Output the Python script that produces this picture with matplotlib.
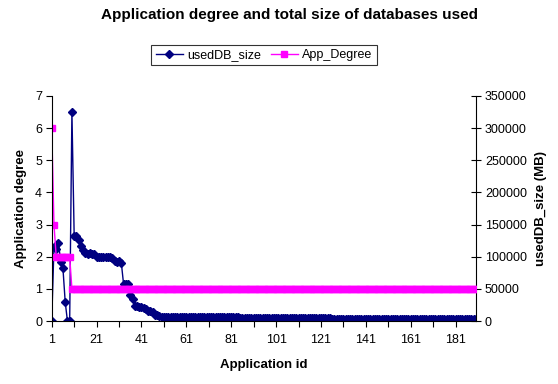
import matplotlib
matplotlib.use("Agg")
import matplotlib.pyplot as plt
from matplotlib.ticker import MultipleLocator, FixedLocator

plt.rcParams['font.family'] = ['Liberation Sans', 'DejaVu Sans']

# application ids 1..190
app_id = list(range(1, 191))

# App_Degree (left axis)
app_degree = [6, 3, 2, 2, 2, 2, 2, 2, 2] + [1] * 181

# usedDB_size in MB (right axis)
used_db_size = [
    0, 115000, 112000, 122000, 92000, 82000, 30000, 0, 0, 325000,
    133000, 132000, 126000, 117000, 110000, 106000, 105000, 106000, 105000, 104000,
    100000, 99000, 100000, 99000, 100000, 99000, 100000, 98000, 93000, 92000,
    93000, 91000, 58000, 57000, 57000, 40000, 34000, 24000, 23000, 22000,
    22000, 21000, 19000, 15000, 15000, 14000, 9000, 9000, 8000, 7000,
    6500, 6000, 6200, 6000, 6100, 6000, 5900, 6000, 6200, 6000,
    6000, 5900, 6100, 6000, 6000, 5800, 6000, 6100, 6000, 5900,
    6000, 6000, 6100, 5900, 6000, 6000, 5800, 6000, 6100, 6000,
    5900, 6000, 5800, 5900, 4500, 4600, 4400, 4500, 5000, 4500,
    4600, 4400, 4500, 4800, 4500, 4400, 4600, 4500, 4500, 4700,
    4500, 4400, 4500, 4600, 4500, 4500, 4400, 4600, 4500, 4800,
    4500, 4500, 4400, 4600, 4500, 4500, 4700, 4500, 4400, 4500,
    4600, 4500, 4500, 4400, 4500, 3000, 3100, 3000, 2900, 3000,
    3000, 3100, 3000, 3000, 2900, 3000, 3100, 3000, 3000, 2900,
    3000, 3000, 3100, 3000, 2900, 3000, 3000, 3100, 3000, 3000,
    2900, 3000, 3000, 3100, 3000, 3000, 2900, 3000, 3000, 3100,
    3000, 2900, 3000, 3000, 3100, 3000, 3000, 2900, 3000, 3000,
    3100, 3000, 3000, 2900, 3000, 3000, 3100, 3000, 2900, 3000,
    3000, 3000, 2900, 3000, 3100, 3000, 3000, 2900, 3000, 3000,
]

navy = "#000080"
pink = "#FF00FF"

fig = plt.figure(figsize=(5.58, 3.84), dpi=100)
ax = fig.add_axes([0.0927, 0.164, 0.760, 0.586])
ax2 = ax.twinx()

# blue series on right axis
l1, = ax2.plot(app_id, used_db_size, color=navy, lw=1, marker="D", ms=3.8,
               mec=navy, mfc=navy, label="usedDB_size")
# pink series on left axis, drawn above
l2, = ax.plot(app_id, app_degree, color=pink, lw=1, marker="s", ms=4,
              mec=pink, mfc=pink, label="App_Degree")
ax.set_zorder(ax2.get_zorder() + 1)
ax.patch.set_visible(False)

ax.set_xlim(1, 190)
ax.set_ylim(0, 7)
ax2.set_ylim(0, 350000)
ax.yaxis.set_major_locator(MultipleLocator(1))
ax2.yaxis.set_major_locator(MultipleLocator(50000))
ax.xaxis.set_major_locator(FixedLocator(list(range(1, 191, 20))))
ax.xaxis.set_minor_locator(FixedLocator(list(range(11, 191, 20))))

for a in (ax, ax2):
    a.spines['top'].set_visible(False)
    for s in a.spines.values():
        s.set_linewidth(0.8)
ax.spines['right'].set_visible(False)
ax2.spines['left'].set_visible(False)
ax2.spines['bottom'].set_visible(False)

ax.tick_params(axis='y', direction='out', length=4, width=0.8, labelsize=9, pad=3)
ax.tick_params(axis='x', which='both', direction='out', length=4, width=0.8, labelsize=9, pad=5)
ax2.tick_params(axis='y', direction='inout', length=7, width=0.8, labelsize=9, pad=3)

ax.set_xlabel("Application id", fontsize=9.5, fontweight='bold', labelpad=10)
ax.set_ylabel("Application degree", fontsize=9.5, fontweight='bold', labelpad=6)
ax2.set_ylabel("usedDB_size (MB)", fontsize=9.5, fontweight='bold', labelpad=6)

fig.text(0.518, 0.962, "Application degree and total size of databases used",
         ha='center', va='center', fontsize=11, fontweight='bold')

fig.legend(handles=[l1, l2], loc='center', bbox_to_anchor=(0.473, 0.857),
           ncol=2, frameon=True, fancybox=False, edgecolor='black',
           fontsize=9, handlelength=2.2, handletextpad=0.3, columnspacing=0.8,
           borderpad=0.35, borderaxespad=0)
fig.legends[0].get_frame().set_linewidth(0.8)

fig.savefig("out.png", dpi=100)
